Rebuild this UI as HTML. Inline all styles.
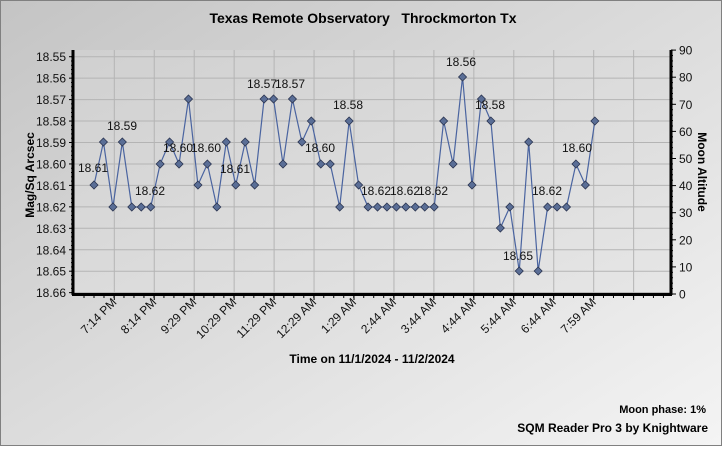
<!DOCTYPE html>
<html><head><meta charset="utf-8"><style>
html,body{margin:0;padding:0;}
body{width:722px;height:446px;overflow:hidden;}
text{font-family:"Liberation Sans",Arial,sans-serif;white-space:pre;}
</style></head><body>
<svg width="722" height="446" xmlns="http://www.w3.org/2000/svg">
<defs>
<linearGradient id="bg" x1="0" y1="0" x2="1" y2="1">
<stop offset="0" stop-color="#c4c4c4"/><stop offset="1" stop-color="#f4f4f4"/>
</linearGradient>
<linearGradient id="pa" x1="0" y1="0" x2="1" y2="1">
<stop offset="0" stop-color="#d0d0d0"/><stop offset="1" stop-color="#e6e6e6"/>
</linearGradient>
</defs>
<rect x="0.5" y="0.5" width="721" height="445" fill="url(#bg)" stroke="#808080"/>
<rect x="73" y="50" width="598" height="244" fill="url(#pa)"/>
<g stroke="#b4b4b4" stroke-width="1" id="grid"></g>
<text x="363" y="23" font-size="14" font-weight="bold" text-anchor="middle" fill="#000" xml:space="preserve">Texas Remote Observatory   Throckmorton Tx</text>
<g id="main"></g>
<text x="372" y="363" font-size="12" font-weight="bold" text-anchor="middle">Time on 11/1/2024 - 11/2/2024</text>
<text x="706" y="413" font-size="11" font-weight="bold" text-anchor="end">Moon phase: 1%</text>
<text x="708" y="432" font-size="12" font-weight="bold" text-anchor="end">SQM Reader Pro 3 by Knightware</text>
<text transform="translate(34,175) rotate(-90)" font-size="12" font-weight="bold" text-anchor="middle">Mag/Sq Arcsec</text>
<text transform="translate(698,172) rotate(90)" font-size="12" font-weight="bold" text-anchor="middle">Moon Altitude</text>
</svg>
<script>
const NS="http://www.w3.org/2000/svg";
const g=document.getElementById('grid'), m=document.getElementById('main');
function el(p,t,a,txt){const e=document.createElementNS(NS,t);for(const k in a)e.setAttribute(k,a[k]);if(txt!==undefined)e.textContent=txt;p.appendChild(e);return e;}
for(let k=0;k<12;k++){const y=56.7+21.45*k;el(g,'line',{x1:73,x2:671,y1:y,y2:y});
 el(m,'text',{x:66,y:y+4.5,'font-size':12,'text-anchor':'end',fill:'#111'},(18.55+k*0.01).toFixed(2));
 el(m,'line',{x1:69,x2:73,y1:y,y2:y,stroke:'#000'});}
for(let k=0;k<=55;k++){const y=56.7+k*21.45/5;el(m,'line',{x1:71,x2:73,y1:y,y2:y,stroke:'#000'});}
const xl=["7:14 PM","8:14 PM","9:29 PM","10:29 PM","11:29 PM","12:29 AM","1:29 AM","2:44 AM","3:44 AM","4:44 AM","5:44 AM","6:44 AM","7:59 AM"];
for(let k=0;k<14;k++){const x=114.3+39.95*k;el(g,'line',{x1:x,x2:x,y1:50,y2:294});
 el(m,'line',{x1:x,x2:x,y1:294,y2:300,stroke:'#000'});
 if(k<13)el(m,'text',{transform:`translate(${x+3},${303}) rotate(-45)`,'font-size':12,'text-anchor':'end',fill:'#111'},xl[k]);}
for(let x=84;x<671;x+=9.99){el(m,'line',{x1:x,x2:x,y1:294,y2:298,stroke:'#000'});}
for(let k=0;k<=9;k++){const y=294-27.1*k;el(m,'line',{x1:671,x2:676,y1:y,y2:y,stroke:'#000'});
 el(m,'text',{x:679,y:y+4.5,'font-size':12,fill:'#111'},String(k*10));}
for(let k=0;k<=45;k++){const y=294-k*27.1/5;el(m,'line',{x1:671,x2:673,y1:y,y2:y,stroke:'#000'});}
el(m,'line',{x1:73,x2:73,y1:50,y2:295,stroke:'#000','stroke-width':3});
el(m,'line',{x1:671,x2:671,y1:50,y2:295,stroke:'#000','stroke-width':3});
el(m,'line',{x1:72,x2:672,y1:294.5,y2:294.5,stroke:'#000','stroke-width':3});
const ys=[185,142,207,142,207,207,207,164,142,164,99,185,164,207,142,185,142,185,99,99,164,99,142,121,164,164,207,121,185,207,207,207,207,207,207,207,207,121,164,77,185,99,121,228,207,271,142,271,207,207,207,164,185,121];
const pts=ys.map((y,i)=>[94+i*9.45,y]);
el(m,'polyline',{points:pts.map(p=>p.join(',')).join(' '),fill:'none',stroke:'#4a64a0','stroke-width':1.2});
pts.forEach(([x,y])=>el(m,'path',{d:`M${x} ${y-4}L${x+4} ${y}L${x} ${y+4}L${x-4} ${y}Z`,fill:'#5a6e96',stroke:'#2a3450','stroke-width':0.8}));
const labs=[[93,172,"18.61"],[122,130,"18.59"],[150,195,"18.62"],[178,152,"18.60"],[206,152,"18.60"],[235,173,"18.61"],[262,88,"18.57"],[290,88,"18.57"],[320,152,"18.60"],[348,109,"18.58"],[376,195,"18.62"],[405,195,"18.62"],[433,195,"18.62"],[461,66,"18.56"],[490,109,"18.58"],[518,260,"18.65"],[547,195,"18.62"],[577,152,"18.60"]];
labs.forEach(([x,y,t])=>el(m,'text',{x:x,y:y,'font-size':12,'text-anchor':'middle',fill:'#111'},t));
</script>
</body></html>
